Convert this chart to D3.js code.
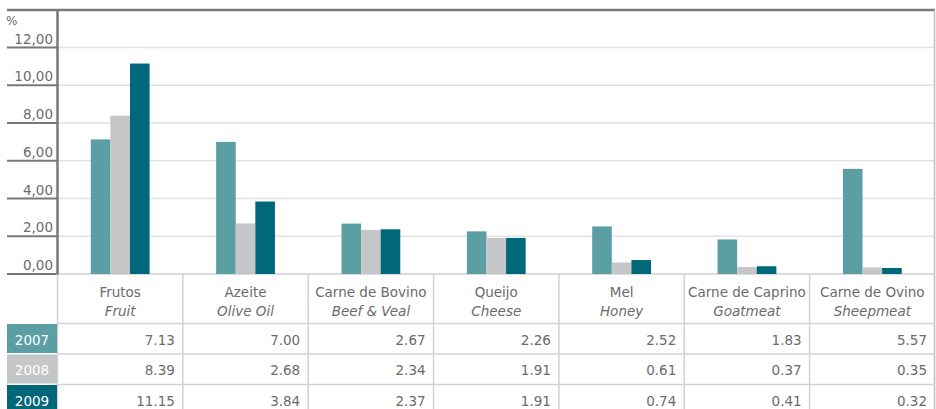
<!DOCTYPE html>
<html>
<head>
<meta charset="utf-8">
<script src="https://cdn.jsdelivr.net/npm/d3@7"></script>
<style>
  body { margin: 0; background: #fff; }
  svg text { font-family: "DejaVu Sans", sans-serif; fill: #6b6b6b; }
</style>
</head>
<body>
<div id="chart"></div>
<script>
// categories, years and values
var categoriesPt = ["Frutos", "Azeite", "Carne de Bovino", "Queijo", "Mel", "Carne de Caprino", "Carne de Ovino"];
var categoriesEn = ["Fruit", "Olive Oil", "Beef & Veal", "Cheese", "Honey", "Goatmeat", "Sheepmeat"];
var years = ["2007", "2008", "2009"];
var values2007 = [7.13, 7.00, 2.67, 2.26, 2.52, 1.83, 5.57];
var values2008 = [8.39, 2.68, 2.34, 1.91, 0.61, 0.37, 0.35];
var values2009 = [11.15, 3.84, 2.37, 1.91, 0.74, 0.41, 0.32];
var yTicks = [0, 2, 4, 6, 8, 10, 12];

var series = [values2007, values2008, values2009];
var colors = ["#5b9fa5", "#c5c6c8", "#00687a"];

var svgWidth = 936;
var svgHeight = 409;
var fontSize = "13.5px";

var svg = d3.select("#chart")
    .append("svg")
    .attr("width", svgWidth)
    .attr("height", svgHeight);

// x: one column per category, between the axis and the right border
var xScale = d3.scaleBand()
    .domain(categoriesPt)
    .range([57.5, 935])
    .padding(0);

var yScale = d3.scaleLinear()
    .domain([0, 12])
    .range([274, 47.5]);

var barWidth = 19.6;
var groupScale = d3.scaleBand()
    .domain(years)
    .range([0, barWidth * 3]);

// gridlines
svg.append("g")
    .selectAll("line")
    .data(yTicks.slice(1))
    .enter()
    .append("line")
    .attr("x1", 58)
    .attr("x2", 934)
    .attr("y1", d => yScale(d))
    .attr("y2", d => yScale(d))
    .attr("stroke", "#e2e2e2")
    .attr("stroke-width", 1.5);

// baseline across plot
svg.append("line")
    .attr("x1", 58).attr("x2", 935)
    .attr("y1", 274).attr("y2", 274)
    .attr("stroke", "#cfcfcf")
    .attr("stroke-width", 1.5);

// bars
var groups = svg.append("g")
    .selectAll("g")
    .data(series)
    .enter()
    .append("g")
    .attr("fill", (d, i) => colors[i]);

groups.selectAll("rect")
    .data((d, i) => d.map((v, j) => ({ v: v, cat: categoriesPt[j], year: years[i] })))
    .enter()
    .append("rect")
    .attr("x", d => xScale(d.cat) + (xScale.bandwidth() - barWidth * 3) / 2 + groupScale(d.year))
    .attr("width", groupScale.bandwidth())
    .attr("y", d => yScale(d.v))
    .attr("height", d => yScale(0) - yScale(d.v));

// y axis ticks: dark underline with label above
var yAxisG = svg.append("g");
yAxisG.selectAll("line")
    .data(yTicks)
    .enter()
    .append("line")
    .attr("x1", 7)
    .attr("x2", 58)
    .attr("y1", d => yScale(d))
    .attr("y2", d => yScale(d))
    .attr("stroke", "#787878")
    .attr("stroke-width", 2);

yAxisG.selectAll("text")
    .data(yTicks)
    .enter()
    .append("text")
    .attr("x", 53)
    .attr("y", d => yScale(d) - 4)
    .attr("text-anchor", "end")
    .attr("font-size", fontSize)
    .text(d => d3.format(".2f")(d).replace(".", ","));

svg.append("text")
    .attr("x", 6)
    .attr("y", 25)
    .attr("font-size", "12px")
    .text("%");

// frame: top border, left axis, right border
svg.append("line")
    .attr("x1", 7).attr("x2", 935)
    .attr("y1", 10).attr("y2", 10)
    .attr("stroke", "#7a7a7a")
    .attr("stroke-width", 2.5);

svg.append("line")
    .attr("x1", 57.5).attr("x2", 57.5)
    .attr("y1", 9).attr("y2", 275)
    .attr("stroke", "#787878")
    .attr("stroke-width", 2.5);

svg.append("line")
    .attr("x1", 934.5).attr("x2", 934.5)
    .attr("y1", 10).attr("y2", 409)
    .attr("stroke", "#bdbdbd")
    .attr("stroke-width", 1.5);

// data table
var rowTops = [323.5, 354, 384.5];
var rowHeight = 30.5;
var table = svg.append("g");

// column separators
table.selectAll("line.col")
    .data(categoriesPt)
    .enter()
    .append("line")
    .attr("class", "col")
    .attr("x1", d => xScale(d))
    .attr("x2", d => xScale(d))
    .attr("y1", 274)
    .attr("y2", 409)
    .attr("stroke", "#d2d2d2")
    .attr("stroke-width", 1.5);

// row separators
table.selectAll("line.row")
    .data(rowTops)
    .enter()
    .append("line")
    .attr("class", "row")
    .attr("x1", 57)
    .attr("x2", 935)
    .attr("y1", d => d)
    .attr("y2", d => d)
    .attr("stroke", "#d2d2d2")
    .attr("stroke-width", 1.5);

// header labels
table.selectAll("text.pt")
    .data(categoriesPt)
    .enter()
    .append("text")
    .attr("class", "pt")
    .attr("x", d => xScale(d) + xScale.bandwidth() / 2)
    .attr("y", 297)
    .attr("text-anchor", "middle")
    .attr("font-size", fontSize)
    .text(d => d);

table.selectAll("text.en")
    .data(categoriesEn)
    .enter()
    .append("text")
    .attr("class", "en")
    .attr("x", (d, i) => xScale(categoriesPt[i]) + xScale.bandwidth() / 2)
    .attr("y", 316)
    .attr("text-anchor", "middle")
    .attr("font-size", fontSize)
    .attr("font-style", "italic")
    .text(d => d);

// year label cells
table.selectAll("rect.year")
    .data(years)
    .enter()
    .append("rect")
    .attr("class", "year")
    .attr("x", 7)
    .attr("y", (d, i) => rowTops[i] + 0.5)
    .attr("width", 50)
    .attr("height", rowHeight - 1.5)
    .attr("fill", (d, i) => colors[i]);

table.selectAll("text.year")
    .data(years)
    .enter()
    .append("text")
    .attr("class", "year")
    .attr("x", 32)
    .attr("y", (d, i) => rowTops[i] + 21)
    .attr("text-anchor", "middle")
    .attr("font-size", fontSize)
    .style("fill", "#ffffff")
    .text(d => d);

// values
series.forEach(function(vals, i) {
    table.selectAll("text.v" + i)
        .data(vals)
        .enter()
        .append("text")
        .attr("class", "v" + i)
        .attr("x", (d, j) => xScale(categoriesPt[j]) + xScale.bandwidth() - 8)
        .attr("y", rowTops[i] + 21)
        .attr("text-anchor", "end")
        .attr("font-size", fontSize)
        .text(d => d3.format(".2f")(d));
});
</script>
</body>
</html>
